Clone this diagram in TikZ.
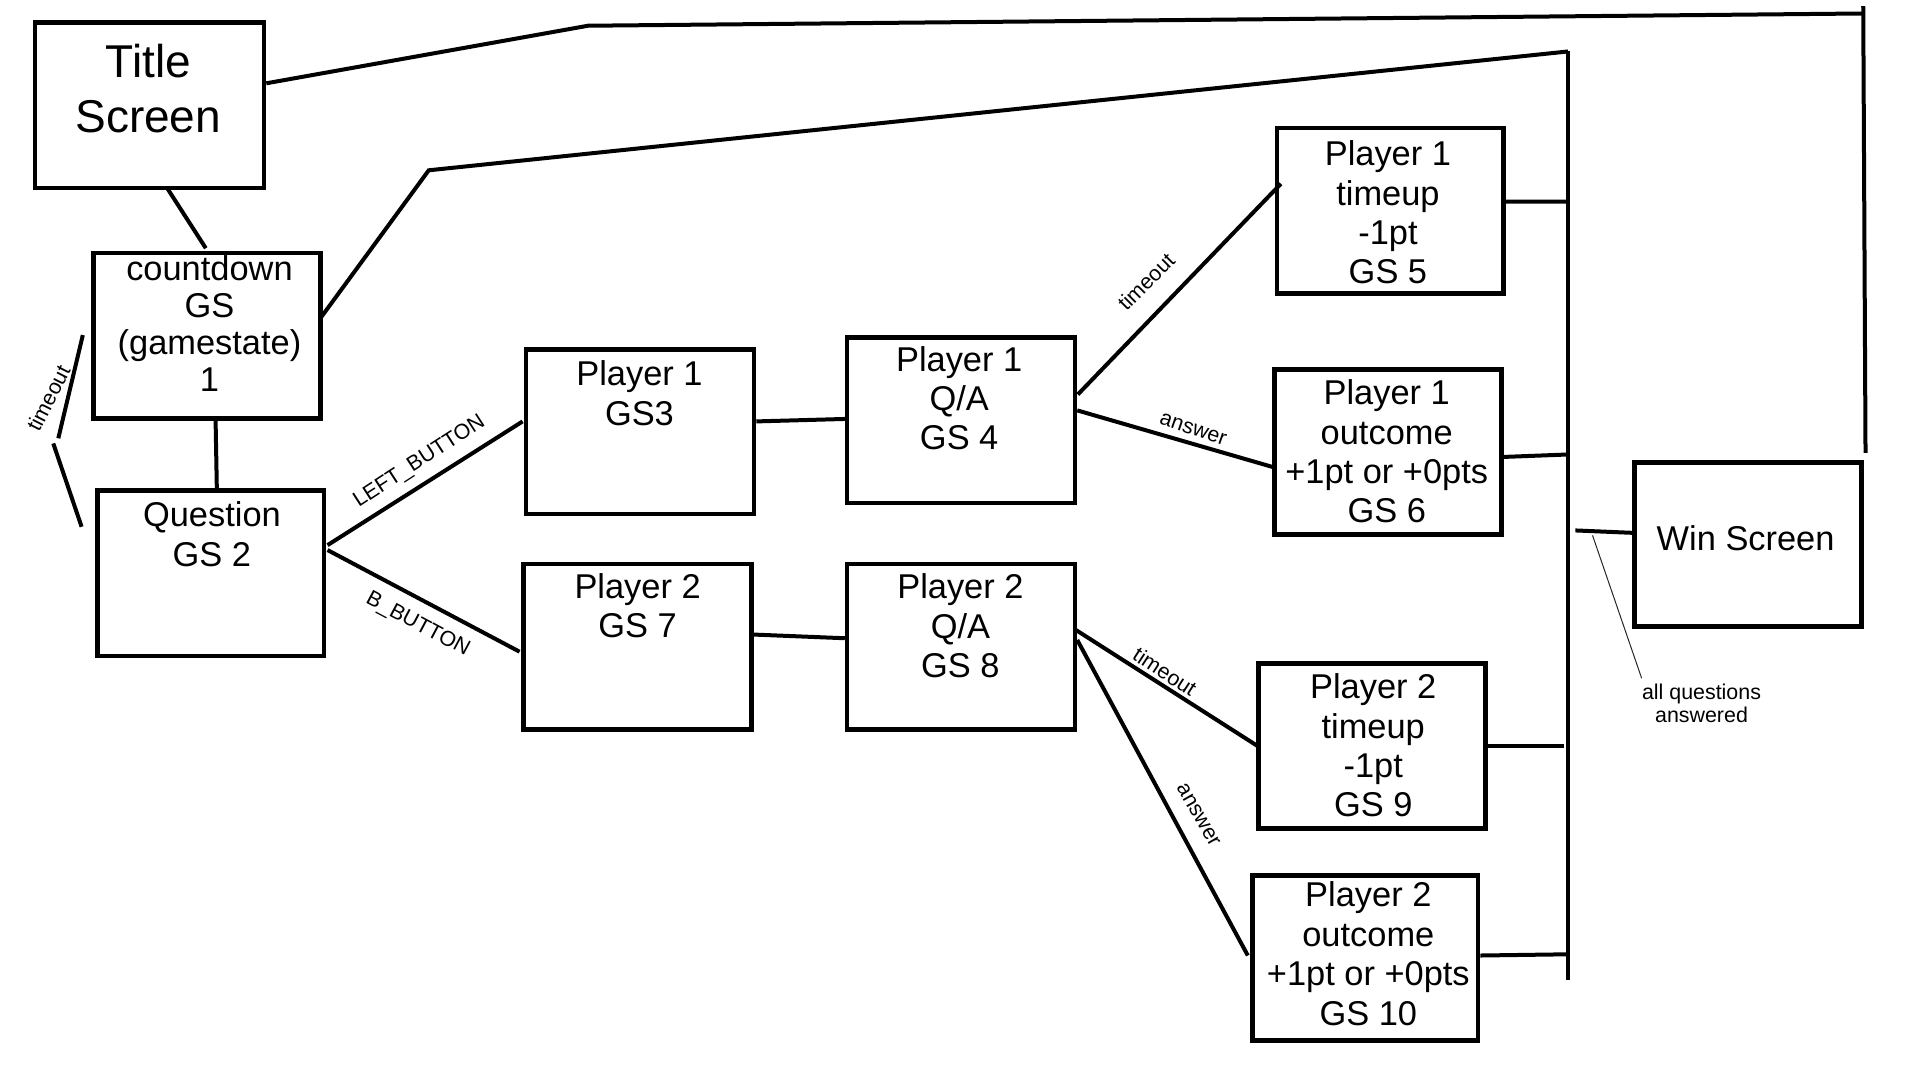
\documentclass[tikz,border=0pt]{standalone}
\usepackage{fontspec}
\setmainfont{Liberation Sans}
\usetikzlibrary{calc,fit}
\begin{document}
\begin{tikzpicture}[x=0.6125pt,y=-0.6125pt,
  box/.style={draw,line width=2.3pt,inner sep=0pt},
  txt/.style={align=center,inner sep=0pt,font=\fontsize{17.2}{19.7}\selectfont},
  lbl/.style={inner sep=0pt,font=\fontsize{10.7}{11.7}\selectfont},
  conn/.style={line width=2pt},
  thinline/.style={line width=0.5pt,black!85}]
\useasboundingbox (0,0) rectangle (1567.35,881.6);
% boxes
\node[box,fit={(28.5,18.5) (215.5,153.5)}] (title) {};
\node[box,fit={(76.5,206.5) (261.5,341.5)}] (countdown) {};
\node[box,fit={(79.5,400.5) (264.5,535.5)}] (question) {};
\node[box,fit={(429.5,285.5) (615.5,419.5)}] (p1gs) {};
\node[box,fit={(427.5,460.5) (613.5,595.5)}] (p2gs) {};
\node[box,fit={(691.5,275.5) (877.5,410.5)}] (p1qa) {};
\node[box,fit={(691.5,460.5) (877.5,595.5)}] (p2qa) {};
\node[box,fit={(1042.5,104.5) (1227.5,239.5)}] (p1tu) {};
\node[box,fit={(1040.5,301.5) (1225.5,436.5)}] (p1out) {};
\node[box,fit={(1027.5,541.5) (1212.5,676.5)}] (p2tu) {};
\node[box,fit={(1022.5,714.5) (1206.5,849.5)}] (p2out) {};
\node[box,fit={(1334.5,377.5) (1519.5,511.5)}] (win) {};
% texts
\node[txt,font=\fontsize{23}{27.5}\selectfont] (titlet) at (121,72.5) {Title\\Screen};
\node[txt,font=\fontsize{17.2}{18.6}\selectfont] (cdt) at (171,264) {countdown\\GS\\(gamestate)\\1};
\node[txt] (qt) at (173,436) {Question\\GS 2};
\node[txt] (p1gst) at (522,321) {Player 1\\GS3};
\node[txt] (p2gst) at (520.5,494.5) {Player 2\\GS 7};
\node[txt] (p1qat) at (783,325) {Player 1\\Q/A\\GS 4};
\node[txt] (p2qat) at (784,511) {Player 2\\Q/A\\GS 8};
\node[txt] (p1tut) at (1133,173.5) {Player 1\\timeup\\-1pt\\GS 5};
\node[txt] (p1outt) at (1132,368.5) {Player 1\\outcome\\+1pt or +0pts\\GS 6};
\node[txt] (p2tut) at (1121,608.5) {Player 2\\timeup\\-1pt\\GS 9};
\node[txt] (p2outt) at (1117,778.5) {Player 2\\outcome\\+1pt or +0pts\\GS 10};
\node[txt] (wint) at (1425,439) {Win Screen};
% coordinates
\coordinate (tA) at (480,21);
\coordinate (tB) at (1521,11);
\coordinate (rTop) at (1521,5);
\coordinate (cA) at (350,139);
\coordinate (busTop) at (1280,42);
\coordinate (busBot) at (1280,800);
\coordinate (toA) at (47.6,357.8);
\coordinate (toB) at (43.5,362);
\coordinate (j1) at (1280,164.5);
\coordinate (j2) at (1280,371);
\coordinate (j3) at (1277,609);
\coordinate (j4) at (1280,779);
\coordinate (wj) at (1286,433);
\coordinate (aqs) at (1300,437);
% connectors
\draw[conn] ($(title.east)+(0,-18)$) -- (tA) -- (tB);
\draw[conn] (rTop) -- ($(win.north east)+(1.5,-6)$);
\draw[conn] ($(countdown.east)+(-2,-14)$) -- (cA) -- (busTop);
\draw[conn] (busTop) -- (busBot);
\draw[conn] ($(title.south)+(15,-1)$) -- ($(countdown.north)+(-1,-2)$);
\draw[conn] ($(countdown.south)+(7,0)$) -- ($(question.north)+(5,0)$);
\draw[conn] ($(countdown.west)+(-7,-0.5)$) -- (toA);
\draw[conn] (toB) -- ($(question.west)+(-11,-38)$);
\draw[conn] ($(question.east)+(1,-23)$) -- ($(p1gs.west)+(-1,-8.5)$);
\draw[conn] ($(question.east)+(1,-19)$) -- ($(p2gs.west)+(-1.5,4)$);
\draw[conn] ($(p1gs.east)+(0,-8.5)$) -- ($(p1qa.west)+(0,-1)$);
\draw[conn] ($(p2gs.east)+(0,-10)$) -- ($(p2qa.west)+(0,-7)$);
\draw[conn] ($(p1qa.east)+(0.5,-21)$) -- ($(p1tu.west)+(5,-22)$);
\draw[conn] ($(p1qa.east)+(0,-8)$) -- ($(p1out.west)+(3,13)$);
\draw[conn] ($(p2qa.east)+(-1.5,-14)$) -- ($(p2tu.west)+(1,0)$);
\draw[conn] ($(p2qa.east)+(0,-5.6)$) -- ($(p2out.west)+(-2,-2)$);
\draw[conn] ($(p1tu.east)+(0,-7.5)$) -- (j1);
\draw[conn] ($(p1out.east)+(0,4)$) -- (j2);
\draw[conn] (p2tu.east) -- (j3);
\draw[conn] ($(p2out.east)+(0,-2)$) -- (j4);
\draw[conn] (wj) -- ($(win.west)+(1,-9.5)$);
% labels
\node[lbl,rotate=63] (tol) at (39.4,325) {timeout};
\node[lbl,rotate=33] (lbl1) at (342.5,377) {LEFT\_BUTTON};
\node[lbl,rotate=-28] (lbl2) at (341,510) {B\_BUTTON};
\node[lbl,rotate=45] (lbl3) at (935.5,230) {timeout};
\node[lbl,rotate=-19] (lbl4) at (974,350.5) {answer};
\node[lbl,rotate=-33] (lbl5) at (951,548.3) {timeout};
\node[lbl,rotate=-60] (lbl6) at (978.2,665.3) {answer};
\node[lbl,align=center] (aq) at (1389,574) {all questions\\answered};
\draw[thinline] (aqs) -- ($(aq.north west)+(0,-4)$);
\end{tikzpicture}
\end{document}
